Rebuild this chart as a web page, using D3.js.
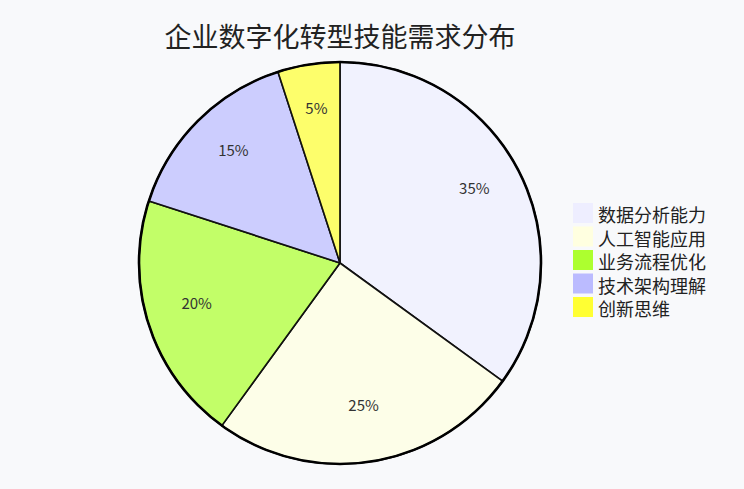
<!DOCTYPE html>
<html>
<head>
<meta charset="utf-8">
<script src="https://cdn.jsdelivr.net/npm/d3@7"></script>
<style>
  html, body { margin: 0; padding: 0; background: #f8f9fb; }
  svg { display: block; font-family: "Noto Sans CJK SC", "Noto Sans", sans-serif; }
</style>
</head>
<body>
<div id="chart"></div>
<script>
// 数据
const categories = ["数据分析能力", "人工智能应用", "业务流程优化", "技术架构理解", "创新思维"];
const values = [35, 25, 20, 15, 5];
const colors = ["#eeeeff", "#ffffe0", "#adff2f", "#bbbbff", "#ffff33"];

const width = 744, height = 489;
const cx = 340, cy = 263, radius = 201;

const svg = d3.select("#chart").append("svg")
    .attr("width", width)
    .attr("height", height);

svg.append("rect")
    .attr("width", width)
    .attr("height", height)
    .attr("fill", "#f8f9fb");

// 标题
svg.append("text")
    .attr("x", 340)
    .attr("y", 47)
    .attr("text-anchor", "middle")
    .attr("font-size", "27px")
    .attr("fill", "#222")
    .text("企业数字化转型技能需求分布");

const data = categories.map((c, i) => ({name: c, value: values[i], color: colors[i]}));

const pie = d3.pie().sort(null).value(d => d.value);
const arc = d3.arc().innerRadius(0).outerRadius(radius);
const labelArc = d3.arc().innerRadius(radius * 0.75).outerRadius(radius * 0.75);

const g = svg.append("g").attr("transform", `translate(${cx},${cy})`);

const arcs = pie(data);

g.selectAll("path.slice")
    .data(arcs)
    .enter().append("path")
    .attr("class", "slice")
    .attr("d", arc)
    .attr("fill", d => d.data.color)
    .attr("fill-opacity", 0.72)
    .attr("stroke", "#111")
    .attr("stroke-width", 1.6)
    .attr("stroke-linejoin", "round");

// 外圈
g.append("circle")
    .attr("r", radius)
    .attr("fill", "none")
    .attr("stroke", "#000")
    .attr("stroke-width", 2.6);

// 百分比标签
const total = d3.sum(values);
g.selectAll("text.pct")
    .data(arcs)
    .enter().append("text")
    .attr("class", "pct")
    .attr("transform", d => `translate(${labelArc.centroid(d)})`)
    .attr("text-anchor", "middle")
    .attr("y", -7)
    .attr("dominant-baseline", "central")
    .attr("font-size", "15px")
    .attr("fill", "#333")
    .text(d => Math.round(d.data.value / total * 100) + "%");

// 图例
const legend = svg.append("g").attr("transform", "translate(573,203)");
const item = legend.selectAll("g")
    .data(data)
    .enter().append("g")
    .attr("transform", (d, i) => `translate(0,${i * 23.5})`);

item.append("rect")
    .attr("width", 20)
    .attr("height", 20)
    .attr("fill", d => d.color);

item.append("text")
    .attr("x", 25)
    .attr("y", 11)
    .attr("dominant-baseline", "central")
    .attr("font-size", "18px")
    .attr("fill", "#222")
    .text(d => d.name);
</script>
</body>
</html>
